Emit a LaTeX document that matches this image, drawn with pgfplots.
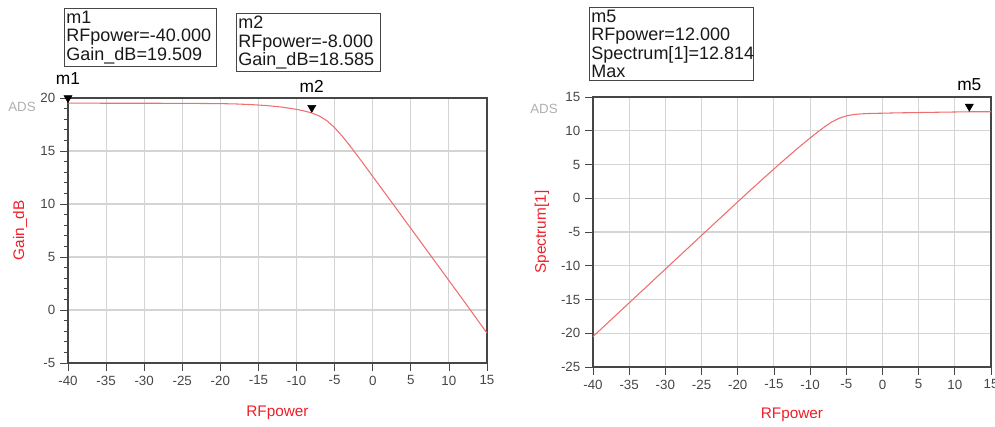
\documentclass[border=0pt]{standalone}
\usepackage{pgfplots}
\pgfplotsset{compat=1.18}
\usepackage{pgfplotstable}
\usepackage{fontspec}
\setmainfont{Liberation Sans}
\definecolor{curve}{RGB}{240,110,110}
\definecolor{lblred}{RGB}{240,30,40}
\definecolor{axgray}{RGB}{70,70,70}
\definecolor{ticktext}{RGB}{70,70,70}
\definecolor{gridgray}{RGB}{212,212,212}
\definecolor{adsgray}{RGB}{175,175,175}

\pgfplotstableread{
x y
-40 19.509
-35 19.508
-30 19.505
-25 19.498
-20 19.47
-18 19.44
-16 19.38
-14 19.29
-12 19.15
-10 18.93
-9 18.78
-8 18.585
-7 18.30
-6 17.85
-5 17.20
-4 16.40
-3 15.50
-2 14.55
-1 13.58
0 12.60
2 10.65
5 7.70
8 4.75
10 2.78
12 0.814
15 -2.18
}\gaintable

\pgfplotstableread{
x y
-40 -20.491
-35 -15.492
-30 -10.495
-25 -5.502
-20 -0.53
-18 1.44
-16 3.38
-14 5.29
-12 7.15
-10 8.93
-9 9.78
-8 10.585
-7 11.30
-6 11.85
-5 12.20
-4 12.40
-3 12.50
-2 12.55
-1 12.58
0 12.60
2 12.65
5 12.70
8 12.75
10 12.78
12 12.814
15 12.82
}\spectable

\pgfplotsset{
  adsaxis/.style={
    scale only axis,
    clip=false,
    xmin=-40, xmax=15,
    xtick={-40,-35,...,15},
    xtick pos=bottom, ytick pos=left,
    tick align=outside,
    major tick length=6pt, minor tick length=3pt,
    every tick/.style={draw=axgray, line width=0.6pt},
    axis line style={draw=axgray, line width=0.8pt},
    grid=major,
    major grid style={draw=gridgray, line width=0.8pt},
    tick label style={font=\fontsize{10}{12}\selectfont, text=ticktext},
    /pgf/number format/assume math mode=true,
    xlabel style={at={(axis description cs:0.5,0)}, anchor=north, inner sep=0pt,
                  font=\fontsize{11.5}{13}\selectfont, text=lblred},
    ylabel style={anchor=center, rotate=0, inner sep=0pt,
                  font=\fontsize{11.5}{13}\selectfont, text=lblred},
  },
  mkr/.style={only marks, mark=triangle*, mark size=3.5pt,
              mark options={yshift=4pt, rotate=180, fill=black, draw=black},
              every node near coord/.append style={anchor=south, inner sep=0pt,
                 font=\fontsize{13}{14}\selectfont, text=black}},
}

\begin{document}
\begin{tikzpicture}
\useasboundingbox (-51pt,-47.25pt) rectangle (695.25pt,272.25pt);

% ---------- left axis ----------
\begin{axis}[adsaxis,
  at={(0pt,0pt)}, anchor=south west,
  width=314.25pt, height=198.75pt,
  ymin=-5, ymax=20,
  ytick={-5,0,...,20},
  minor y tick num=4,
  xlabel={RFpower},
  xlabel style={yshift=-32pt},
  ylabel={Gain\_dB},
  ylabel style={at={(axis description cs:-0.1146,0.5)}},
]
\addplot[curve, line width=0.8pt] table[x=x,y=y] {\gaintable};
\addplot[mkr, nodes near coords={m1},
  every node near coord/.append style={yshift=9.5pt}] coordinates {(-40,19.509)};
\addplot[mkr, nodes near coords={m2},
  every node near coord/.append style={yshift=11pt}] coordinates {(-8,18.585)};
\end{axis}

% ---------- right axis ----------
\begin{axis}[adsaxis,
  at={(393.75pt,-3pt)}, anchor=south west,
  width=298.5pt, height=202.5pt,
  ymin=-25, ymax=15,
  ytick={-25,-20,...,15},
  xlabel={RFpower},
  xlabel style={yshift=-30.75pt},
  ylabel={Spectrum[1]},
  ylabel style={at={(axis description cs:-0.1281,0.5)}},
]
\addplot[curve, line width=0.8pt] table[x=x,y=y] {\spectable};
\addplot[mkr, nodes near coords={m5},
  every node near coord/.append style={yshift=11.5pt}] coordinates {(12,12.814)};
\end{axis}

% ---------- ADS watermarks ----------
\node[text=adsgray, font=\fontsize{10}{11}\selectfont, inner sep=0pt] at (-34.5pt,192pt) {ADS};
\node[text=adsgray, font=\fontsize{10}{11}\selectfont, inner sep=0pt] at (357pt,190.5pt) {ADS};

% ---------- marker readout boxes ----------
\tikzset{readout/.style={draw=axgray, line width=0.7pt, anchor=north west, align=left,
  inner xsep=1.5pt, inner ysep=2pt, text=black!90, font=\fontsize{13.5}{13.75}\selectfont}}
\node[readout, text width=111pt] at (-3pt,266.25pt) {m1\\RFpower=-40.000\\Gain\_dB=19.509};
\node[readout, text width=105pt] at (126pt,262.5pt) {m2\\RFpower=-8.000\\Gain\_dB=18.585};
\node[readout, text width=120pt] at (390.75pt,267pt) {m5\\RFpower=12.000\\Spectrum[1]=12.814\\Max};
\end{tikzpicture}
\end{document}
